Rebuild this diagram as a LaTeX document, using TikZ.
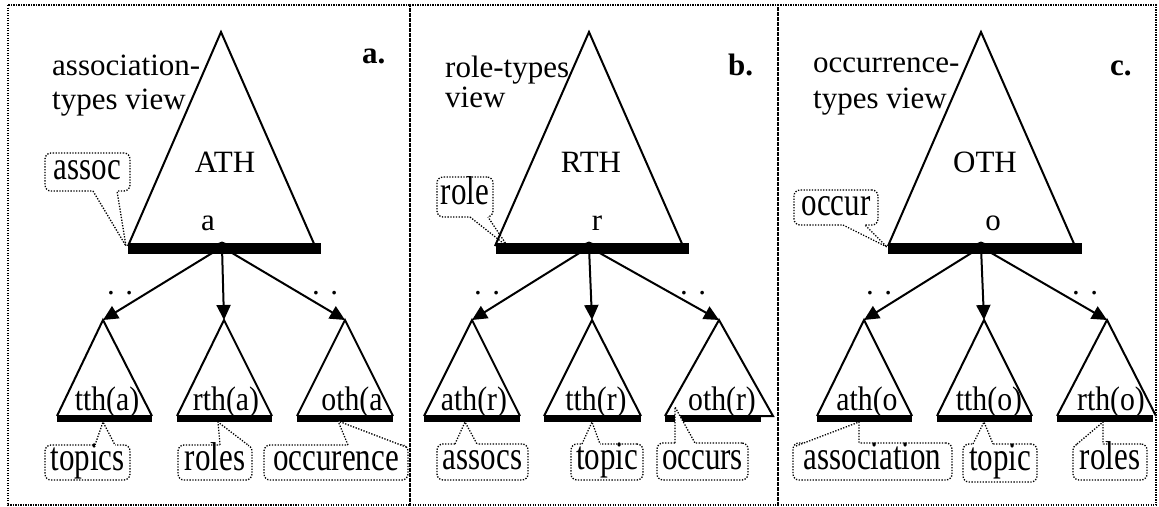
\documentclass[tikz,border=0pt]{standalone}
\usepackage{fontspec}
\setmainfont{Liberation Serif}
\usetikzlibrary{arrows.meta}

\tikzset{
  lbl/.style={font=\fontsize{31}{35}\selectfont, inner sep=0pt},
  heading/.style={lbl, anchor=base west},
  tag/.style={font=\fontsize{31}{35}\selectfont\bfseries, inner sep=0pt, anchor=base west},
  frame/.style={line width=1.2pt, dash pattern=on 1.2pt off 1.3pt},
  tri/.style={line width=2pt, line join=miter},
  bigbar/.style={line width=11pt},
  smallbar/.style={line width=7pt},
  knot/.style={circle, fill=black, inner sep=0pt, minimum size=11pt},
  arr/.style={line width=2pt, -{Triangle[length=15pt,width=14pt]}},
  callbox/.style={lbl, draw, line width=1.3pt, dash pattern=on 1.3pt off 1.5pt,
    rounded corners=6pt, text height=22pt, text depth=7pt},
  callline/.style={line width=1.3pt, dash pattern=on 1.3pt off 1.5pt},
  ellip/.style={lbl, anchor=base west, text height=8pt, text depth=6pt},
}

% tall lettering used in the callouts and subtree labels
\newcommand\tall[1]{\scalebox{1}[1.3]{#1}}
\newcommand\sublab[1]{\scalebox{0.96}[1.1]{#1}}

% pointer of a callout: base point, tip, base point
\newcommand\calloutptr[3]{%
  \fill[white] (#1) -- (#2) -- (#3) -- cycle;
  \draw[white, line width=2.6pt] (#1) -- (#3);
  \draw[callline] (#1) -- (#2) -- (#3);
}

\begin{document}
\begin{tikzpicture}[x=1pt, y=-1pt]
\useasboundingbox (0,0) rectangle (1159,506);

% panel frames
\draw[frame] (8,5) rectangle (410,505);
\draw[frame] (410,5) rectangle (778,505);
\draw[frame] (778,5) rectangle (1156,505);

% view titles and panel tags
\node[heading] (ta1) at (52,75) {association-};
\node[heading] (ta2) at (52,109) {types view};
\node[heading] (tb1) at (445,77) {role-types};
\node[heading] (tb2) at (445,107) {view};
\node[heading] (tc1) at (813,72) {occurrence-};
\node[heading] (tc2) at (813,108) {types view};
\node[tag] (tagA) at (362,63) {a.};
\node[tag] (tagB) at (728,75) {b.};
\node[tag] (tagC) at (1110,75) {c.};

% callouts on the upper hierarchies
\node[callbox, minimum width=85pt, minimum height=38pt] (assoc) at (87.5,172) {\tall{assoc}};
\coordinate (assoc-b1) at (93,191);
\coordinate (assoc-b2) at (117,191);
\coordinate (assoc-tip) at (126,246);
\calloutptr{assoc-b1}{assoc-tip}{assoc-b2}

\node[callbox, minimum width=56pt, minimum height=40pt] (role) at (465,197) {\tall{role}};
\coordinate (role-b1) at (470,217);
\coordinate (role-b2) at (488,217);
\coordinate (role-tip) at (508,247);
\calloutptr{role-b1}{role-tip}{role-b2}

\node[callbox, minimum width=84pt, minimum height=35pt] (occur) at (836,207.5) {\tall{occur}};
\coordinate (occur-b1) at (843,225);
\coordinate (occur-b2) at (865,225);
\coordinate (occur-tip) at (887,247);
\calloutptr{occur-b1}{occur-tip}{occur-b2}

% ---------- panel a ----------
\coordinate (A-top) at (221,32);
\draw[tri] (128,246) -- (A-top) -- (315,246);
\draw[bigbar] (128,248.5) -- (321,248.5);
\node[lbl, anchor=base] (ATH) at (225,172) {ATH};
\node[lbl, anchor=base] (a-lab) at (208,230) {a};
\node[knot] (a-knot) at (222,247) {};
\coordinate (a-c1) at (103,320);
\coordinate (a-c2) at (224,320);
\coordinate (a-c3) at (345,320);
\draw[arr] (a-knot) -- (a-c1);
\draw[arr] (a-knot) -- (a-c2);
\draw[arr] (a-knot) -- (a-c3);
\node[ellip, fill=white] (a-dl) at (107,294) {. .\hspace{13pt}};
\node[ellip] (a-dr) at (312,294) {. .};
\draw[tri] (57,416) -- (a-c1) -- (152,416);
\draw[smallbar] (57,418.5) -- (152,418.5);
\draw[tri] (177,416) -- (a-c2) -- (272,416);
\draw[smallbar] (177,418.5) -- (272,418.5);
\draw[tri] (297,416) -- (a-c3) -- (393,416);
\draw[smallbar] (297,418.5) -- (393,418.5);
\node[lbl, anchor=base] (tth-a) at (107,410) {\sublab{tth(a)}};
\node[lbl, anchor=base] (rth-a) at (226,410) {\sublab{rth(a)}};
\node[lbl, anchor=base] (oth-a) at (352,410) {\sublab{oth(a}};

% ---------- panel b ----------
\coordinate (B-top) at (589,32);
\draw[tri] (495,246) -- (B-top) -- (683,246);
\draw[bigbar] (496,248.5) -- (689,248.5);
\node[lbl, anchor=base] (RTH) at (591,172) {RTH};
\node[lbl, anchor=base] (r-lab) at (597,230) {r};
\node[knot] (b-knot) at (589,247) {};
\coordinate (b-c1) at (472,320);
\coordinate (b-c2) at (592,320);
\coordinate (b-c3) at (719,320);
\draw[arr] (b-knot) -- (b-c1);
\draw[arr] (b-knot) -- (b-c2);
\draw[arr] (b-knot) -- (b-c3);
\node[ellip, fill=white] (b-dl) at (474,294) {. .\hspace{13pt}};
\node[ellip] (b-dr) at (680,294) {. .};
\draw[tri] (424,416) -- (b-c1) -- (520,416);
\draw[smallbar] (424,418.5) -- (520,418.5);
\draw[tri] (544,416) -- (b-c2) -- (641,416);
\draw[smallbar] (544,418.5) -- (641,418.5);
\draw[tri] (665,416) -- (b-c3) -- (773,416) -- (761,416);
\draw[smallbar] (665,418.5) -- (761,418.5);
\node[lbl, anchor=base] (ath-r) at (474,410) {\sublab{ath(r)}};
\node[lbl, anchor=base] (tth-r) at (596,410) {\sublab{tth(r)}};
\node[lbl, anchor=base] (oth-r) at (722,410) {\sublab{oth(r)}};

% ---------- panel c ----------
\coordinate (C-top) at (981,32);
\draw[tri] (888,246) -- (C-top) -- (1075,246);
\draw[bigbar] (888,248.5) -- (1082,248.5);
\node[lbl, anchor=base] (OTH) at (985,172) {OTH};
\node[lbl, anchor=base] (o-lab) at (993,230) {o};
\node[knot] (c-knot) at (981,247) {};
\coordinate (c-c1) at (864,320);
\coordinate (c-c2) at (984,320);
\coordinate (c-c3) at (1107,320);
\draw[arr] (c-knot) -- (c-c1);
\draw[arr] (c-knot) -- (c-c2);
\draw[arr] (c-knot) -- (c-c3);
\node[ellip, fill=white] (c-dl) at (866,294) {. .\hspace{20pt}};
\node[ellip] (c-dr) at (1072,294) {. .};
\draw[tri] (817,416) -- (c-c1) -- (912,416);
\draw[smallbar] (817,418.5) -- (912,418.5);
\draw[tri] (937,416) -- (c-c2) -- (1032,416);
\draw[smallbar] (937,418.5) -- (1032,418.5);
\draw[tri] (1057,416) -- (c-c3) -- (1156,416);
\draw[smallbar] (1057,418.5) -- (1153,418.5);
\node[lbl, anchor=base] (ath-o) at (867,410) {\sublab{ath(o}};
\node[lbl, anchor=base] (tth-o) at (989,410) {\sublab{tth(o)}};
\node[lbl, anchor=base] (rth-o) at (1111,410) {\sublab{rth(o)}};

% callouts on the lower hierarchies
\node[callbox, minimum width=85pt, minimum height=35pt] (topics) at (87.5,462.5) {\tall{topics}};
\coordinate (topics-b1) at (95,445);
\coordinate (topics-b2) at (115,445);
\coordinate (topics-tip) at (103,422);
\calloutptr{topics-b1}{topics-tip}{topics-b2}

\node[callbox, minimum width=74pt, minimum height=35pt] (roles-a) at (215,462.5) {\tall{roles}};
\coordinate (roles-a-b1) at (220,445);
\coordinate (roles-a-b2) at (248,445);
\coordinate (roles-a-tip) at (218,422);
\calloutptr{roles-a-b1}{roles-a-tip}{roles-a-b2}

\node[callbox, minimum width=144pt, minimum height=35pt] (occurence) at (336,462.5) {\tall{occurence}};
\coordinate (occurence-b1) at (348,445);
\coordinate (occurence-b2) at (406,447);
\coordinate (occurence-tip) at (338,421);
\calloutptr{occurence-b1}{occurence-tip}{occurence-b2}

\node[callbox, minimum width=91pt, minimum height=36pt] (assocs) at (482.5,462) {\tall{assocs}};
\coordinate (assocs-b1) at (455,444);
\coordinate (assocs-b2) at (477,444);
\coordinate (assocs-tip) at (465,422);
\calloutptr{assocs-b1}{assocs-tip}{assocs-b2}

\node[callbox, minimum width=72pt, minimum height=36pt] (topic-b) at (607,462) {\tall{topic}};
\coordinate (topic-b-b1) at (582,444);
\coordinate (topic-b-b2) at (600,444);
\coordinate (topic-b-tip) at (592,422);
\calloutptr{topic-b-b1}{topic-b-tip}{topic-b-b2}

\node[callbox, minimum width=91pt, minimum height=37pt] (occurs) at (702.5,461.5) {\tall{occurs}};
\coordinate (occurs-b1) at (675,443);
\coordinate (occurs-b2) at (695,443);
\coordinate (occurs-tip) at (675,407);
\calloutptr{occurs-b1}{occurs-tip}{occurs-b2}

\node[callbox, minimum width=159pt, minimum height=37pt] (association) at (872.5,461.5) {\tall{association}};
\coordinate (association-b1) at (796,446);
\coordinate (association-b2) at (859,443);
\coordinate (association-tip) at (859,422);
\calloutptr{association-b1}{association-tip}{association-b2}

\node[callbox, minimum width=74pt, minimum height=38pt] (topic-c) at (1000,463) {\tall{topic}};
\coordinate (topic-c-b1) at (973,444);
\coordinate (topic-c-b2) at (993,444);
\coordinate (topic-c-tip) at (984,422);
\calloutptr{topic-c-b1}{topic-c-tip}{topic-c-b2}

\node[callbox, minimum width=74pt, minimum height=36pt] (roles-c) at (1110,462) {\tall{roles}};
\coordinate (roles-c-b1) at (1077,444);
\coordinate (roles-c-b2) at (1103,444);
\coordinate (roles-c-tip) at (1103,422);
\calloutptr{roles-c-b1}{roles-c-tip}{roles-c-b2}

\end{tikzpicture}
\end{document}
